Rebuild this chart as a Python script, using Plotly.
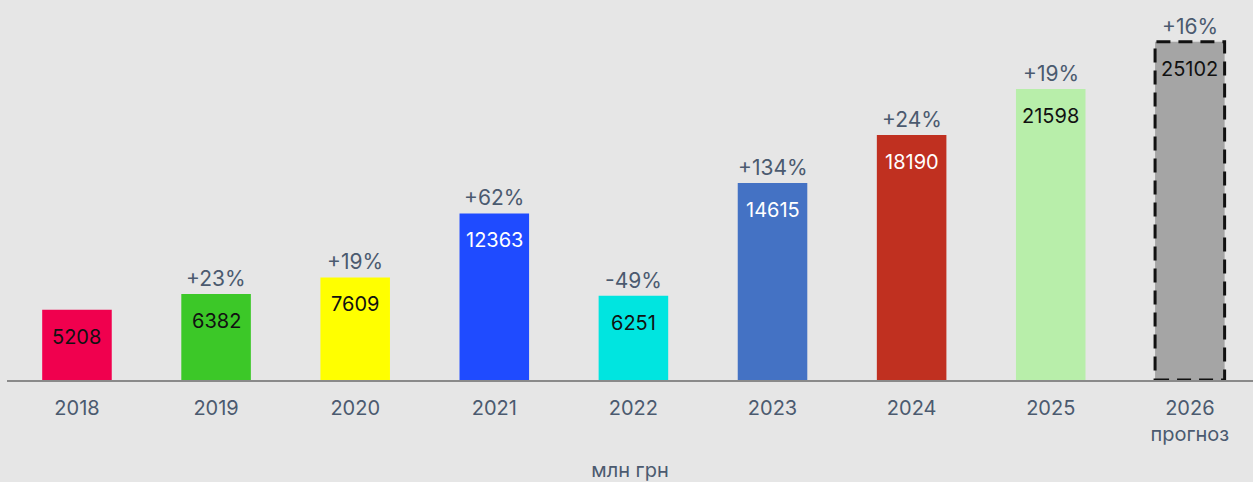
import plotly.graph_objects as go

years = ["2018", "2019", "2020", "2021", "2022", "2023", "2024", "2025", "2026"]
tick_labels = ["2018", "2019", "2020", "2021", "2022", "2023", "2024", "2025", "2026<br>прогноз"]
values = [5208, 6382, 7609, 12363, 6251, 14615, 18190, 21598, 25102]
growth = ["", "+23%", "+19%", "+62%", "-49%", "+134%", "+24%", "+19%", "+16%"]
colors = ["#f0004e", "#3cc828", "#ffff00", "#1f4bff", "#00e5e0", "#4472c4", "#c03020", "#b8eeaa", "#a5a5a5"]
label_colors = ["#111111", "#111111", "#111111", "#ffffff", "#111111", "#ffffff", "#ffffff", "#111111", "#111111"]

FONT = "Inter, Open Sans, sans-serif"
SLATE = "#4b5a6f"

fig = go.Figure()
fig.add_trace(go.Bar(
    x=list(range(len(years))), y=values,
    marker=dict(color=colors, line=dict(width=0)),
    width=0.5, hoverinfo="skip",
))

for i, (v, g, lc) in enumerate(zip(values, growth, label_colors)):
    fig.add_annotation(x=i, y=v, text=str(v), showarrow=False, yanchor="top",
                       yshift=-13, font=dict(family=FONT, size=20, color=lc))
    if g:
        fig.add_annotation(x=i, y=v, text=g, showarrow=False, yanchor="bottom",
                           yshift=1, font=dict(family=FONT, size=21, color=SLATE))

last = len(values) - 1
fig.add_shape(type="rect", xref="x", yref="y", x0=last - 0.25, x1=last + 0.25,
              y0=0, y1=values[last], line=dict(color="#111111", width=3, dash="14px,8px"),
              fillcolor="rgba(0,0,0,0)")

fig.update_layout(
    width=1253, height=482,
    paper_bgcolor="#e6e6e6", plot_bgcolor="#e6e6e6",
    margin=dict(l=7, r=0, t=0, b=102),
    showlegend=False,
    xaxis=dict(tickmode="array", tickvals=list(range(len(years))), ticktext=tick_labels,
               range=[-0.503, 8.454],
               showgrid=False, zeroline=False, showline=True, linecolor="#8a8a8a", linewidth=2,
               ticks="", ticklabelstandoff=9, tickfont=dict(family=FONT, size=20, color=SLATE),
               title=dict(text="млн грн", font=dict(family=FONT, size=20, color=SLATE), standoff=18)),
    yaxis=dict(range=[0, 28200], visible=False, showgrid=False, zeroline=False),
)

fig.write_html("out.html", config={"displayModeBar": False},
               post_script="document.body.style.margin='0px';document.body.style.background='#e6e6e6';")
